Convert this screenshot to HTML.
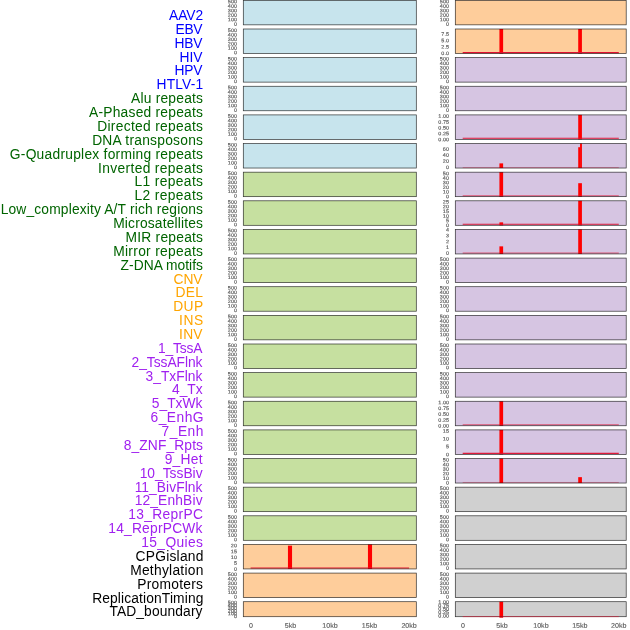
<!DOCTYPE html>
<html><head><meta charset="utf-8"><title>chart</title>
<style>
html,body{margin:0;padding:0;background:#fff;}
body{width:630px;height:630px;overflow:hidden;}
svg{display:block;will-change:transform;}
text{font-family:"Liberation Sans",sans-serif;}
.t,.x{text-rendering:geometricPrecision;}
.t{font-size:5.00px;fill:#5c5c5c;text-anchor:end;stroke:#5c5c5c;stroke-width:0.16px;}
.x{font-size:6.70px;fill:#5c5c5c;text-anchor:middle;stroke:#5c5c5c;stroke-width:0.14px;}
.l{font-size:13.8px;text-anchor:start;}
</style></head><body>
<svg width="630" height="630" viewBox="0 0 630 630">
<rect x="0" y="0" width="630" height="630" fill="#ffffff"/>
<rect x="243.30" y="0.35" width="173.00" height="24.50" fill="rgb(199,228,237)"/>
<rect x="243.30" y="0.35" width="173.00" height="24.50" fill="none" stroke="#000000" stroke-width="0.70" stroke-opacity="0.80"/>
<text x="236.90" y="3.27" class="t" transform="rotate(0.05 236.90 3.27)" textLength="9.01" lengthAdjust="spacingAndGlyphs">500</text>
<text x="236.90" y="7.77" class="t" transform="rotate(0.05 236.90 7.77)" textLength="9.01" lengthAdjust="spacingAndGlyphs">400</text>
<text x="236.90" y="12.26" class="t" transform="rotate(0.05 236.90 12.26)" textLength="9.01" lengthAdjust="spacingAndGlyphs">300</text>
<text x="236.90" y="16.76" class="t" transform="rotate(0.05 236.90 16.76)" textLength="9.01" lengthAdjust="spacingAndGlyphs">200</text>
<text x="236.90" y="21.25" class="t" transform="rotate(0.05 236.90 21.25)" textLength="9.01" lengthAdjust="spacingAndGlyphs">100</text>
<text x="236.90" y="25.75" class="t" transform="rotate(0.05 236.90 25.75)" textLength="3.00" lengthAdjust="spacingAndGlyphs">0</text>
<rect x="455.30" y="0.35" width="170.90" height="24.50" fill="rgb(254,205,155)"/>
<rect x="455.30" y="0.35" width="170.90" height="24.50" fill="none" stroke="#000000" stroke-width="0.70" stroke-opacity="0.80"/>
<text x="448.90" y="3.27" class="t" transform="rotate(0.05 448.90 3.27)" textLength="9.01" lengthAdjust="spacingAndGlyphs">500</text>
<text x="448.90" y="7.77" class="t" transform="rotate(0.05 448.90 7.77)" textLength="9.01" lengthAdjust="spacingAndGlyphs">400</text>
<text x="448.90" y="12.26" class="t" transform="rotate(0.05 448.90 12.26)" textLength="9.01" lengthAdjust="spacingAndGlyphs">300</text>
<text x="448.90" y="16.76" class="t" transform="rotate(0.05 448.90 16.76)" textLength="9.01" lengthAdjust="spacingAndGlyphs">200</text>
<text x="448.90" y="21.25" class="t" transform="rotate(0.05 448.90 21.25)" textLength="9.01" lengthAdjust="spacingAndGlyphs">100</text>
<text x="448.90" y="25.75" class="t" transform="rotate(0.05 448.90 25.75)" textLength="3.00" lengthAdjust="spacingAndGlyphs">0</text>
<rect x="243.30" y="28.99" width="173.00" height="24.50" fill="rgb(199,228,237)"/>
<rect x="243.30" y="28.99" width="173.00" height="24.50" fill="none" stroke="#000000" stroke-width="0.70" stroke-opacity="0.80"/>
<text x="236.90" y="31.91" class="t" transform="rotate(0.05 236.90 31.91)" textLength="9.01" lengthAdjust="spacingAndGlyphs">500</text>
<text x="236.90" y="36.40" class="t" transform="rotate(0.05 236.90 36.40)" textLength="9.01" lengthAdjust="spacingAndGlyphs">400</text>
<text x="236.90" y="40.90" class="t" transform="rotate(0.05 236.90 40.90)" textLength="9.01" lengthAdjust="spacingAndGlyphs">300</text>
<text x="236.90" y="45.40" class="t" transform="rotate(0.05 236.90 45.40)" textLength="9.01" lengthAdjust="spacingAndGlyphs">200</text>
<text x="236.90" y="49.89" class="t" transform="rotate(0.05 236.90 49.89)" textLength="9.01" lengthAdjust="spacingAndGlyphs">100</text>
<text x="236.90" y="54.39" class="t" transform="rotate(0.05 236.90 54.39)" textLength="3.00" lengthAdjust="spacingAndGlyphs">0</text>
<rect x="455.30" y="28.99" width="170.90" height="24.50" fill="rgb(254,205,155)"/>
<rect x="499.42" y="28.99" width="3.70" height="24.50" fill="#ff0000"/>
<rect x="578.22" y="28.99" width="3.70" height="24.50" fill="#ff0000"/>
<line x1="462.70" y1="52.59" x2="618.80" y2="52.59" stroke="#e01030" stroke-width="1.10" stroke-opacity="1.00"/>
<rect x="455.30" y="28.99" width="170.90" height="24.50" fill="none" stroke="#000000" stroke-width="0.70" stroke-opacity="0.80"/>
<text x="448.90" y="35.85" class="t" transform="rotate(0.05 448.90 35.85)" textLength="7.51" lengthAdjust="spacingAndGlyphs">7.5</text>
<text x="448.90" y="42.23" class="t" transform="rotate(0.05 448.90 42.23)" textLength="7.51" lengthAdjust="spacingAndGlyphs">5.0</text>
<text x="448.90" y="48.61" class="t" transform="rotate(0.05 448.90 48.61)" textLength="7.51" lengthAdjust="spacingAndGlyphs">2.5</text>
<text x="448.90" y="54.99" class="t" transform="rotate(0.05 448.90 54.99)" textLength="7.51" lengthAdjust="spacingAndGlyphs">0.0</text>
<rect x="243.30" y="57.62" width="173.00" height="24.50" fill="rgb(199,228,237)"/>
<rect x="243.30" y="57.62" width="173.00" height="24.50" fill="none" stroke="#000000" stroke-width="0.70" stroke-opacity="0.80"/>
<text x="236.90" y="60.55" class="t" transform="rotate(0.05 236.90 60.55)" textLength="9.01" lengthAdjust="spacingAndGlyphs">500</text>
<text x="236.90" y="65.04" class="t" transform="rotate(0.05 236.90 65.04)" textLength="9.01" lengthAdjust="spacingAndGlyphs">400</text>
<text x="236.90" y="69.54" class="t" transform="rotate(0.05 236.90 69.54)" textLength="9.01" lengthAdjust="spacingAndGlyphs">300</text>
<text x="236.90" y="74.03" class="t" transform="rotate(0.05 236.90 74.03)" textLength="9.01" lengthAdjust="spacingAndGlyphs">200</text>
<text x="236.90" y="78.53" class="t" transform="rotate(0.05 236.90 78.53)" textLength="9.01" lengthAdjust="spacingAndGlyphs">100</text>
<text x="236.90" y="83.02" class="t" transform="rotate(0.05 236.90 83.02)" textLength="3.00" lengthAdjust="spacingAndGlyphs">0</text>
<rect x="455.30" y="57.62" width="170.90" height="24.50" fill="rgb(214,197,226)"/>
<rect x="455.30" y="57.62" width="170.90" height="24.50" fill="none" stroke="#000000" stroke-width="0.70" stroke-opacity="0.80"/>
<text x="448.90" y="60.55" class="t" transform="rotate(0.05 448.90 60.55)" textLength="9.01" lengthAdjust="spacingAndGlyphs">500</text>
<text x="448.90" y="65.04" class="t" transform="rotate(0.05 448.90 65.04)" textLength="9.01" lengthAdjust="spacingAndGlyphs">400</text>
<text x="448.90" y="69.54" class="t" transform="rotate(0.05 448.90 69.54)" textLength="9.01" lengthAdjust="spacingAndGlyphs">300</text>
<text x="448.90" y="74.03" class="t" transform="rotate(0.05 448.90 74.03)" textLength="9.01" lengthAdjust="spacingAndGlyphs">200</text>
<text x="448.90" y="78.53" class="t" transform="rotate(0.05 448.90 78.53)" textLength="9.01" lengthAdjust="spacingAndGlyphs">100</text>
<text x="448.90" y="83.02" class="t" transform="rotate(0.05 448.90 83.02)" textLength="3.00" lengthAdjust="spacingAndGlyphs">0</text>
<rect x="243.30" y="86.26" width="173.00" height="24.50" fill="rgb(199,228,237)"/>
<rect x="243.30" y="86.26" width="173.00" height="24.50" fill="none" stroke="#000000" stroke-width="0.70" stroke-opacity="0.80"/>
<text x="236.90" y="89.18" class="t" transform="rotate(0.05 236.90 89.18)" textLength="9.01" lengthAdjust="spacingAndGlyphs">500</text>
<text x="236.90" y="93.68" class="t" transform="rotate(0.05 236.90 93.68)" textLength="9.01" lengthAdjust="spacingAndGlyphs">400</text>
<text x="236.90" y="98.17" class="t" transform="rotate(0.05 236.90 98.17)" textLength="9.01" lengthAdjust="spacingAndGlyphs">300</text>
<text x="236.90" y="102.67" class="t" transform="rotate(0.05 236.90 102.67)" textLength="9.01" lengthAdjust="spacingAndGlyphs">200</text>
<text x="236.90" y="107.16" class="t" transform="rotate(0.05 236.90 107.16)" textLength="9.01" lengthAdjust="spacingAndGlyphs">100</text>
<text x="236.90" y="111.66" class="t" transform="rotate(0.05 236.90 111.66)" textLength="3.00" lengthAdjust="spacingAndGlyphs">0</text>
<rect x="455.30" y="86.26" width="170.90" height="24.50" fill="rgb(214,197,226)"/>
<rect x="455.30" y="86.26" width="170.90" height="24.50" fill="none" stroke="#000000" stroke-width="0.70" stroke-opacity="0.80"/>
<text x="448.90" y="89.18" class="t" transform="rotate(0.05 448.90 89.18)" textLength="9.01" lengthAdjust="spacingAndGlyphs">500</text>
<text x="448.90" y="93.68" class="t" transform="rotate(0.05 448.90 93.68)" textLength="9.01" lengthAdjust="spacingAndGlyphs">400</text>
<text x="448.90" y="98.17" class="t" transform="rotate(0.05 448.90 98.17)" textLength="9.01" lengthAdjust="spacingAndGlyphs">300</text>
<text x="448.90" y="102.67" class="t" transform="rotate(0.05 448.90 102.67)" textLength="9.01" lengthAdjust="spacingAndGlyphs">200</text>
<text x="448.90" y="107.16" class="t" transform="rotate(0.05 448.90 107.16)" textLength="9.01" lengthAdjust="spacingAndGlyphs">100</text>
<text x="448.90" y="111.66" class="t" transform="rotate(0.05 448.90 111.66)" textLength="3.00" lengthAdjust="spacingAndGlyphs">0</text>
<rect x="243.30" y="114.90" width="173.00" height="24.50" fill="rgb(199,228,237)"/>
<rect x="243.30" y="114.90" width="173.00" height="24.50" fill="none" stroke="#000000" stroke-width="0.70" stroke-opacity="0.80"/>
<text x="236.90" y="117.82" class="t" transform="rotate(0.05 236.90 117.82)" textLength="9.01" lengthAdjust="spacingAndGlyphs">500</text>
<text x="236.90" y="122.31" class="t" transform="rotate(0.05 236.90 122.31)" textLength="9.01" lengthAdjust="spacingAndGlyphs">400</text>
<text x="236.90" y="126.81" class="t" transform="rotate(0.05 236.90 126.81)" textLength="9.01" lengthAdjust="spacingAndGlyphs">300</text>
<text x="236.90" y="131.30" class="t" transform="rotate(0.05 236.90 131.30)" textLength="9.01" lengthAdjust="spacingAndGlyphs">200</text>
<text x="236.90" y="135.80" class="t" transform="rotate(0.05 236.90 135.80)" textLength="9.01" lengthAdjust="spacingAndGlyphs">100</text>
<text x="236.90" y="140.30" class="t" transform="rotate(0.05 236.90 140.30)" textLength="3.00" lengthAdjust="spacingAndGlyphs">0</text>
<rect x="455.30" y="114.90" width="170.90" height="24.50" fill="rgb(214,197,226)"/>
<rect x="578.22" y="114.90" width="3.70" height="24.50" fill="#ff0000"/>
<line x1="462.70" y1="138.30" x2="618.80" y2="138.30" stroke="#e01030" stroke-width="1.10" stroke-opacity="0.94"/>
<rect x="455.30" y="114.90" width="170.90" height="24.50" fill="none" stroke="#000000" stroke-width="0.70" stroke-opacity="0.80"/>
<text x="448.90" y="117.86" class="t" transform="rotate(0.05 448.90 117.86)" textLength="10.51" lengthAdjust="spacingAndGlyphs">1.00</text>
<text x="448.90" y="123.70" class="t" transform="rotate(0.05 448.90 123.70)" textLength="10.51" lengthAdjust="spacingAndGlyphs">0.75</text>
<text x="448.90" y="129.53" class="t" transform="rotate(0.05 448.90 129.53)" textLength="10.51" lengthAdjust="spacingAndGlyphs">0.50</text>
<text x="448.90" y="135.36" class="t" transform="rotate(0.05 448.90 135.36)" textLength="10.51" lengthAdjust="spacingAndGlyphs">0.25</text>
<text x="448.90" y="141.20" class="t" transform="rotate(0.05 448.90 141.20)" textLength="10.51" lengthAdjust="spacingAndGlyphs">0.00</text>
<rect x="243.30" y="143.53" width="173.00" height="24.50" fill="rgb(199,228,237)"/>
<rect x="243.30" y="143.53" width="173.00" height="24.50" fill="none" stroke="#000000" stroke-width="0.70" stroke-opacity="0.80"/>
<text x="236.90" y="146.45" class="t" transform="rotate(0.05 236.90 146.45)" textLength="9.01" lengthAdjust="spacingAndGlyphs">500</text>
<text x="236.90" y="150.95" class="t" transform="rotate(0.05 236.90 150.95)" textLength="9.01" lengthAdjust="spacingAndGlyphs">400</text>
<text x="236.90" y="155.45" class="t" transform="rotate(0.05 236.90 155.45)" textLength="9.01" lengthAdjust="spacingAndGlyphs">300</text>
<text x="236.90" y="159.94" class="t" transform="rotate(0.05 236.90 159.94)" textLength="9.01" lengthAdjust="spacingAndGlyphs">200</text>
<text x="236.90" y="164.44" class="t" transform="rotate(0.05 236.90 164.44)" textLength="9.01" lengthAdjust="spacingAndGlyphs">100</text>
<text x="236.90" y="168.93" class="t" transform="rotate(0.05 236.90 168.93)" textLength="3.00" lengthAdjust="spacingAndGlyphs">0</text>
<rect x="455.30" y="143.53" width="170.90" height="24.50" fill="rgb(214,197,226)"/>
<rect x="499.42" y="163.38" width="3.70" height="4.66" fill="#ff0000"/>
<rect x="578.22" y="147.21" width="1.85" height="20.82" fill="#ff0000"/>
<rect x="580.07" y="143.53" width="1.85" height="24.50" fill="#ff0000"/>
<line x1="462.70" y1="167.58" x2="618.80" y2="167.58" stroke="#e01030" stroke-width="0.80" stroke-opacity="0.44"/>
<rect x="455.30" y="143.53" width="170.90" height="24.50" fill="none" stroke="#000000" stroke-width="0.70" stroke-opacity="0.80"/>
<text x="448.90" y="150.72" class="t" transform="rotate(0.05 448.90 150.72)" textLength="6.01" lengthAdjust="spacingAndGlyphs">60</text>
<text x="448.90" y="156.79" class="t" transform="rotate(0.05 448.90 156.79)" textLength="6.01" lengthAdjust="spacingAndGlyphs">40</text>
<text x="448.90" y="162.86" class="t" transform="rotate(0.05 448.90 162.86)" textLength="6.01" lengthAdjust="spacingAndGlyphs">20</text>
<text x="448.90" y="168.93" class="t" transform="rotate(0.05 448.90 168.93)" textLength="3.00" lengthAdjust="spacingAndGlyphs">0</text>
<rect x="243.30" y="172.17" width="173.00" height="24.50" fill="rgb(198,224,160)"/>
<rect x="243.30" y="172.17" width="173.00" height="24.50" fill="none" stroke="#000000" stroke-width="0.70" stroke-opacity="0.80"/>
<text x="236.90" y="175.09" class="t" transform="rotate(0.05 236.90 175.09)" textLength="9.01" lengthAdjust="spacingAndGlyphs">500</text>
<text x="236.90" y="179.59" class="t" transform="rotate(0.05 236.90 179.59)" textLength="9.01" lengthAdjust="spacingAndGlyphs">400</text>
<text x="236.90" y="184.08" class="t" transform="rotate(0.05 236.90 184.08)" textLength="9.01" lengthAdjust="spacingAndGlyphs">300</text>
<text x="236.90" y="188.58" class="t" transform="rotate(0.05 236.90 188.58)" textLength="9.01" lengthAdjust="spacingAndGlyphs">200</text>
<text x="236.90" y="193.07" class="t" transform="rotate(0.05 236.90 193.07)" textLength="9.01" lengthAdjust="spacingAndGlyphs">100</text>
<text x="236.90" y="197.57" class="t" transform="rotate(0.05 236.90 197.57)" textLength="3.00" lengthAdjust="spacingAndGlyphs">0</text>
<rect x="455.30" y="172.17" width="170.90" height="24.50" fill="rgb(214,197,226)"/>
<rect x="499.42" y="172.17" width="3.70" height="24.50" fill="#ff0000"/>
<rect x="578.22" y="183.19" width="3.70" height="13.48" fill="#ff0000"/>
<line x1="462.70" y1="195.82" x2="618.80" y2="195.82" stroke="#e01030" stroke-width="1.10" stroke-opacity="0.62"/>
<rect x="455.30" y="172.17" width="170.90" height="24.50" fill="none" stroke="#000000" stroke-width="0.70" stroke-opacity="0.80"/>
<text x="448.90" y="175.19" class="t" transform="rotate(0.05 448.90 175.19)" textLength="6.01" lengthAdjust="spacingAndGlyphs">50</text>
<text x="448.90" y="179.78" class="t" transform="rotate(0.05 448.90 179.78)" textLength="6.01" lengthAdjust="spacingAndGlyphs">40</text>
<text x="448.90" y="184.38" class="t" transform="rotate(0.05 448.90 184.38)" textLength="6.01" lengthAdjust="spacingAndGlyphs">30</text>
<text x="448.90" y="188.97" class="t" transform="rotate(0.05 448.90 188.97)" textLength="6.01" lengthAdjust="spacingAndGlyphs">20</text>
<text x="448.90" y="193.57" class="t" transform="rotate(0.05 448.90 193.57)" textLength="6.01" lengthAdjust="spacingAndGlyphs">10</text>
<text x="448.90" y="198.17" class="t" transform="rotate(0.05 448.90 198.17)" textLength="3.00" lengthAdjust="spacingAndGlyphs">0</text>
<rect x="243.30" y="200.80" width="173.00" height="24.50" fill="rgb(198,224,160)"/>
<rect x="243.30" y="200.80" width="173.00" height="24.50" fill="none" stroke="#000000" stroke-width="0.70" stroke-opacity="0.80"/>
<text x="236.90" y="203.73" class="t" transform="rotate(0.05 236.90 203.73)" textLength="9.01" lengthAdjust="spacingAndGlyphs">500</text>
<text x="236.90" y="208.22" class="t" transform="rotate(0.05 236.90 208.22)" textLength="9.01" lengthAdjust="spacingAndGlyphs">400</text>
<text x="236.90" y="212.72" class="t" transform="rotate(0.05 236.90 212.72)" textLength="9.01" lengthAdjust="spacingAndGlyphs">300</text>
<text x="236.90" y="217.21" class="t" transform="rotate(0.05 236.90 217.21)" textLength="9.01" lengthAdjust="spacingAndGlyphs">200</text>
<text x="236.90" y="221.71" class="t" transform="rotate(0.05 236.90 221.71)" textLength="9.01" lengthAdjust="spacingAndGlyphs">100</text>
<text x="236.90" y="226.20" class="t" transform="rotate(0.05 236.90 226.20)" textLength="3.00" lengthAdjust="spacingAndGlyphs">0</text>
<rect x="455.30" y="200.80" width="170.90" height="24.50" fill="rgb(214,197,226)"/>
<rect x="499.42" y="222.36" width="3.70" height="2.94" fill="#ff0000"/>
<rect x="578.22" y="200.80" width="3.70" height="24.50" fill="#ff0000"/>
<line x1="462.70" y1="224.25" x2="618.80" y2="224.25" stroke="#e01030" stroke-width="1.10" stroke-opacity="0.94"/>
<rect x="455.30" y="200.80" width="170.90" height="24.50" fill="none" stroke="#000000" stroke-width="0.70" stroke-opacity="0.80"/>
<text x="448.90" y="203.55" class="t" transform="rotate(0.05 448.90 203.55)" textLength="6.01" lengthAdjust="spacingAndGlyphs">25</text>
<text x="448.90" y="208.26" class="t" transform="rotate(0.05 448.90 208.26)" textLength="6.01" lengthAdjust="spacingAndGlyphs">20</text>
<text x="448.90" y="212.97" class="t" transform="rotate(0.05 448.90 212.97)" textLength="6.01" lengthAdjust="spacingAndGlyphs">15</text>
<text x="448.90" y="217.68" class="t" transform="rotate(0.05 448.90 217.68)" textLength="6.01" lengthAdjust="spacingAndGlyphs">10</text>
<text x="448.90" y="222.39" class="t" transform="rotate(0.05 448.90 222.39)" textLength="3.00" lengthAdjust="spacingAndGlyphs">5</text>
<text x="448.90" y="227.10" class="t" transform="rotate(0.05 448.90 227.10)" textLength="3.00" lengthAdjust="spacingAndGlyphs">0</text>
<rect x="243.30" y="229.44" width="173.00" height="24.50" fill="rgb(198,224,160)"/>
<rect x="243.30" y="229.44" width="173.00" height="24.50" fill="none" stroke="#000000" stroke-width="0.70" stroke-opacity="0.80"/>
<text x="236.90" y="232.36" class="t" transform="rotate(0.05 236.90 232.36)" textLength="9.01" lengthAdjust="spacingAndGlyphs">500</text>
<text x="236.90" y="236.86" class="t" transform="rotate(0.05 236.90 236.86)" textLength="9.01" lengthAdjust="spacingAndGlyphs">400</text>
<text x="236.90" y="241.35" class="t" transform="rotate(0.05 236.90 241.35)" textLength="9.01" lengthAdjust="spacingAndGlyphs">300</text>
<text x="236.90" y="245.85" class="t" transform="rotate(0.05 236.90 245.85)" textLength="9.01" lengthAdjust="spacingAndGlyphs">200</text>
<text x="236.90" y="250.35" class="t" transform="rotate(0.05 236.90 250.35)" textLength="9.01" lengthAdjust="spacingAndGlyphs">100</text>
<text x="236.90" y="254.84" class="t" transform="rotate(0.05 236.90 254.84)" textLength="3.00" lengthAdjust="spacingAndGlyphs">0</text>
<rect x="455.30" y="229.44" width="170.90" height="24.50" fill="rgb(214,197,226)"/>
<rect x="499.42" y="246.35" width="3.70" height="7.59" fill="#ff0000"/>
<rect x="578.22" y="229.44" width="3.70" height="24.50" fill="#ff0000"/>
<line x1="462.70" y1="252.94" x2="618.80" y2="252.94" stroke="#e01030" stroke-width="1.10" stroke-opacity="0.62"/>
<rect x="455.30" y="229.44" width="170.90" height="24.50" fill="none" stroke="#000000" stroke-width="0.70" stroke-opacity="0.80"/>
<text x="448.90" y="231.51" class="t" transform="rotate(0.05 448.90 231.51)" textLength="3.00" lengthAdjust="spacingAndGlyphs">4</text>
<text x="448.90" y="237.34" class="t" transform="rotate(0.05 448.90 237.34)" textLength="3.00" lengthAdjust="spacingAndGlyphs">3</text>
<text x="448.90" y="243.17" class="t" transform="rotate(0.05 448.90 243.17)" textLength="3.00" lengthAdjust="spacingAndGlyphs">2</text>
<text x="448.90" y="249.01" class="t" transform="rotate(0.05 448.90 249.01)" textLength="3.00" lengthAdjust="spacingAndGlyphs">1</text>
<text x="448.90" y="254.84" class="t" transform="rotate(0.05 448.90 254.84)" textLength="3.00" lengthAdjust="spacingAndGlyphs">0</text>
<rect x="243.30" y="258.08" width="173.00" height="24.50" fill="rgb(198,224,160)"/>
<rect x="243.30" y="258.08" width="173.00" height="24.50" fill="none" stroke="#000000" stroke-width="0.70" stroke-opacity="0.80"/>
<text x="236.90" y="261.00" class="t" transform="rotate(0.05 236.90 261.00)" textLength="9.01" lengthAdjust="spacingAndGlyphs">500</text>
<text x="236.90" y="265.50" class="t" transform="rotate(0.05 236.90 265.50)" textLength="9.01" lengthAdjust="spacingAndGlyphs">400</text>
<text x="236.90" y="269.99" class="t" transform="rotate(0.05 236.90 269.99)" textLength="9.01" lengthAdjust="spacingAndGlyphs">300</text>
<text x="236.90" y="274.49" class="t" transform="rotate(0.05 236.90 274.49)" textLength="9.01" lengthAdjust="spacingAndGlyphs">200</text>
<text x="236.90" y="278.98" class="t" transform="rotate(0.05 236.90 278.98)" textLength="9.01" lengthAdjust="spacingAndGlyphs">100</text>
<text x="236.90" y="283.48" class="t" transform="rotate(0.05 236.90 283.48)" textLength="3.00" lengthAdjust="spacingAndGlyphs">0</text>
<rect x="455.30" y="258.08" width="170.90" height="24.50" fill="rgb(214,197,226)"/>
<rect x="455.30" y="258.08" width="170.90" height="24.50" fill="none" stroke="#000000" stroke-width="0.70" stroke-opacity="0.80"/>
<text x="448.90" y="261.00" class="t" transform="rotate(0.05 448.90 261.00)" textLength="9.01" lengthAdjust="spacingAndGlyphs">500</text>
<text x="448.90" y="265.50" class="t" transform="rotate(0.05 448.90 265.50)" textLength="9.01" lengthAdjust="spacingAndGlyphs">400</text>
<text x="448.90" y="269.99" class="t" transform="rotate(0.05 448.90 269.99)" textLength="9.01" lengthAdjust="spacingAndGlyphs">300</text>
<text x="448.90" y="274.49" class="t" transform="rotate(0.05 448.90 274.49)" textLength="9.01" lengthAdjust="spacingAndGlyphs">200</text>
<text x="448.90" y="278.98" class="t" transform="rotate(0.05 448.90 278.98)" textLength="9.01" lengthAdjust="spacingAndGlyphs">100</text>
<text x="448.90" y="283.48" class="t" transform="rotate(0.05 448.90 283.48)" textLength="3.00" lengthAdjust="spacingAndGlyphs">0</text>
<rect x="243.30" y="286.71" width="173.00" height="24.50" fill="rgb(198,224,160)"/>
<rect x="243.30" y="286.71" width="173.00" height="24.50" fill="none" stroke="#000000" stroke-width="0.70" stroke-opacity="0.80"/>
<text x="236.90" y="289.64" class="t" transform="rotate(0.05 236.90 289.64)" textLength="9.01" lengthAdjust="spacingAndGlyphs">500</text>
<text x="236.90" y="294.13" class="t" transform="rotate(0.05 236.90 294.13)" textLength="9.01" lengthAdjust="spacingAndGlyphs">400</text>
<text x="236.90" y="298.63" class="t" transform="rotate(0.05 236.90 298.63)" textLength="9.01" lengthAdjust="spacingAndGlyphs">300</text>
<text x="236.90" y="303.12" class="t" transform="rotate(0.05 236.90 303.12)" textLength="9.01" lengthAdjust="spacingAndGlyphs">200</text>
<text x="236.90" y="307.62" class="t" transform="rotate(0.05 236.90 307.62)" textLength="9.01" lengthAdjust="spacingAndGlyphs">100</text>
<text x="236.90" y="312.11" class="t" transform="rotate(0.05 236.90 312.11)" textLength="3.00" lengthAdjust="spacingAndGlyphs">0</text>
<rect x="455.30" y="286.71" width="170.90" height="24.50" fill="rgb(214,197,226)"/>
<rect x="455.30" y="286.71" width="170.90" height="24.50" fill="none" stroke="#000000" stroke-width="0.70" stroke-opacity="0.80"/>
<text x="448.90" y="289.64" class="t" transform="rotate(0.05 448.90 289.64)" textLength="9.01" lengthAdjust="spacingAndGlyphs">500</text>
<text x="448.90" y="294.13" class="t" transform="rotate(0.05 448.90 294.13)" textLength="9.01" lengthAdjust="spacingAndGlyphs">400</text>
<text x="448.90" y="298.63" class="t" transform="rotate(0.05 448.90 298.63)" textLength="9.01" lengthAdjust="spacingAndGlyphs">300</text>
<text x="448.90" y="303.12" class="t" transform="rotate(0.05 448.90 303.12)" textLength="9.01" lengthAdjust="spacingAndGlyphs">200</text>
<text x="448.90" y="307.62" class="t" transform="rotate(0.05 448.90 307.62)" textLength="9.01" lengthAdjust="spacingAndGlyphs">100</text>
<text x="448.90" y="312.11" class="t" transform="rotate(0.05 448.90 312.11)" textLength="3.00" lengthAdjust="spacingAndGlyphs">0</text>
<rect x="243.30" y="315.35" width="173.00" height="24.50" fill="rgb(198,224,160)"/>
<rect x="243.30" y="315.35" width="173.00" height="24.50" fill="none" stroke="#000000" stroke-width="0.70" stroke-opacity="0.80"/>
<text x="236.90" y="318.27" class="t" transform="rotate(0.05 236.90 318.27)" textLength="9.01" lengthAdjust="spacingAndGlyphs">500</text>
<text x="236.90" y="322.77" class="t" transform="rotate(0.05 236.90 322.77)" textLength="9.01" lengthAdjust="spacingAndGlyphs">400</text>
<text x="236.90" y="327.26" class="t" transform="rotate(0.05 236.90 327.26)" textLength="9.01" lengthAdjust="spacingAndGlyphs">300</text>
<text x="236.90" y="331.76" class="t" transform="rotate(0.05 236.90 331.76)" textLength="9.01" lengthAdjust="spacingAndGlyphs">200</text>
<text x="236.90" y="336.25" class="t" transform="rotate(0.05 236.90 336.25)" textLength="9.01" lengthAdjust="spacingAndGlyphs">100</text>
<text x="236.90" y="340.75" class="t" transform="rotate(0.05 236.90 340.75)" textLength="3.00" lengthAdjust="spacingAndGlyphs">0</text>
<rect x="455.30" y="315.35" width="170.90" height="24.50" fill="rgb(214,197,226)"/>
<rect x="455.30" y="315.35" width="170.90" height="24.50" fill="none" stroke="#000000" stroke-width="0.70" stroke-opacity="0.80"/>
<text x="448.90" y="318.27" class="t" transform="rotate(0.05 448.90 318.27)" textLength="9.01" lengthAdjust="spacingAndGlyphs">500</text>
<text x="448.90" y="322.77" class="t" transform="rotate(0.05 448.90 322.77)" textLength="9.01" lengthAdjust="spacingAndGlyphs">400</text>
<text x="448.90" y="327.26" class="t" transform="rotate(0.05 448.90 327.26)" textLength="9.01" lengthAdjust="spacingAndGlyphs">300</text>
<text x="448.90" y="331.76" class="t" transform="rotate(0.05 448.90 331.76)" textLength="9.01" lengthAdjust="spacingAndGlyphs">200</text>
<text x="448.90" y="336.25" class="t" transform="rotate(0.05 448.90 336.25)" textLength="9.01" lengthAdjust="spacingAndGlyphs">100</text>
<text x="448.90" y="340.75" class="t" transform="rotate(0.05 448.90 340.75)" textLength="3.00" lengthAdjust="spacingAndGlyphs">0</text>
<rect x="243.30" y="343.99" width="173.00" height="24.50" fill="rgb(198,224,160)"/>
<rect x="243.30" y="343.99" width="173.00" height="24.50" fill="none" stroke="#000000" stroke-width="0.70" stroke-opacity="0.80"/>
<text x="236.90" y="346.91" class="t" transform="rotate(0.05 236.90 346.91)" textLength="9.01" lengthAdjust="spacingAndGlyphs">500</text>
<text x="236.90" y="351.40" class="t" transform="rotate(0.05 236.90 351.40)" textLength="9.01" lengthAdjust="spacingAndGlyphs">400</text>
<text x="236.90" y="355.90" class="t" transform="rotate(0.05 236.90 355.90)" textLength="9.01" lengthAdjust="spacingAndGlyphs">300</text>
<text x="236.90" y="360.40" class="t" transform="rotate(0.05 236.90 360.40)" textLength="9.01" lengthAdjust="spacingAndGlyphs">200</text>
<text x="236.90" y="364.89" class="t" transform="rotate(0.05 236.90 364.89)" textLength="9.01" lengthAdjust="spacingAndGlyphs">100</text>
<text x="236.90" y="369.39" class="t" transform="rotate(0.05 236.90 369.39)" textLength="3.00" lengthAdjust="spacingAndGlyphs">0</text>
<rect x="455.30" y="343.99" width="170.90" height="24.50" fill="rgb(214,197,226)"/>
<rect x="455.30" y="343.99" width="170.90" height="24.50" fill="none" stroke="#000000" stroke-width="0.70" stroke-opacity="0.80"/>
<text x="448.90" y="346.91" class="t" transform="rotate(0.05 448.90 346.91)" textLength="9.01" lengthAdjust="spacingAndGlyphs">500</text>
<text x="448.90" y="351.40" class="t" transform="rotate(0.05 448.90 351.40)" textLength="9.01" lengthAdjust="spacingAndGlyphs">400</text>
<text x="448.90" y="355.90" class="t" transform="rotate(0.05 448.90 355.90)" textLength="9.01" lengthAdjust="spacingAndGlyphs">300</text>
<text x="448.90" y="360.40" class="t" transform="rotate(0.05 448.90 360.40)" textLength="9.01" lengthAdjust="spacingAndGlyphs">200</text>
<text x="448.90" y="364.89" class="t" transform="rotate(0.05 448.90 364.89)" textLength="9.01" lengthAdjust="spacingAndGlyphs">100</text>
<text x="448.90" y="369.39" class="t" transform="rotate(0.05 448.90 369.39)" textLength="3.00" lengthAdjust="spacingAndGlyphs">0</text>
<rect x="243.30" y="372.62" width="173.00" height="24.50" fill="rgb(198,224,160)"/>
<rect x="243.30" y="372.62" width="173.00" height="24.50" fill="none" stroke="#000000" stroke-width="0.70" stroke-opacity="0.80"/>
<text x="236.90" y="375.55" class="t" transform="rotate(0.05 236.90 375.55)" textLength="9.01" lengthAdjust="spacingAndGlyphs">500</text>
<text x="236.90" y="380.04" class="t" transform="rotate(0.05 236.90 380.04)" textLength="9.01" lengthAdjust="spacingAndGlyphs">400</text>
<text x="236.90" y="384.54" class="t" transform="rotate(0.05 236.90 384.54)" textLength="9.01" lengthAdjust="spacingAndGlyphs">300</text>
<text x="236.90" y="389.03" class="t" transform="rotate(0.05 236.90 389.03)" textLength="9.01" lengthAdjust="spacingAndGlyphs">200</text>
<text x="236.90" y="393.53" class="t" transform="rotate(0.05 236.90 393.53)" textLength="9.01" lengthAdjust="spacingAndGlyphs">100</text>
<text x="236.90" y="398.02" class="t" transform="rotate(0.05 236.90 398.02)" textLength="3.00" lengthAdjust="spacingAndGlyphs">0</text>
<rect x="455.30" y="372.62" width="170.90" height="24.50" fill="rgb(214,197,226)"/>
<rect x="455.30" y="372.62" width="170.90" height="24.50" fill="none" stroke="#000000" stroke-width="0.70" stroke-opacity="0.80"/>
<text x="448.90" y="375.55" class="t" transform="rotate(0.05 448.90 375.55)" textLength="9.01" lengthAdjust="spacingAndGlyphs">500</text>
<text x="448.90" y="380.04" class="t" transform="rotate(0.05 448.90 380.04)" textLength="9.01" lengthAdjust="spacingAndGlyphs">400</text>
<text x="448.90" y="384.54" class="t" transform="rotate(0.05 448.90 384.54)" textLength="9.01" lengthAdjust="spacingAndGlyphs">300</text>
<text x="448.90" y="389.03" class="t" transform="rotate(0.05 448.90 389.03)" textLength="9.01" lengthAdjust="spacingAndGlyphs">200</text>
<text x="448.90" y="393.53" class="t" transform="rotate(0.05 448.90 393.53)" textLength="9.01" lengthAdjust="spacingAndGlyphs">100</text>
<text x="448.90" y="398.02" class="t" transform="rotate(0.05 448.90 398.02)" textLength="3.00" lengthAdjust="spacingAndGlyphs">0</text>
<rect x="243.30" y="401.26" width="173.00" height="24.50" fill="rgb(198,224,160)"/>
<rect x="243.30" y="401.26" width="173.00" height="24.50" fill="none" stroke="#000000" stroke-width="0.70" stroke-opacity="0.80"/>
<text x="236.90" y="404.18" class="t" transform="rotate(0.05 236.90 404.18)" textLength="9.01" lengthAdjust="spacingAndGlyphs">500</text>
<text x="236.90" y="408.68" class="t" transform="rotate(0.05 236.90 408.68)" textLength="9.01" lengthAdjust="spacingAndGlyphs">400</text>
<text x="236.90" y="413.17" class="t" transform="rotate(0.05 236.90 413.17)" textLength="9.01" lengthAdjust="spacingAndGlyphs">300</text>
<text x="236.90" y="417.67" class="t" transform="rotate(0.05 236.90 417.67)" textLength="9.01" lengthAdjust="spacingAndGlyphs">200</text>
<text x="236.90" y="422.16" class="t" transform="rotate(0.05 236.90 422.16)" textLength="9.01" lengthAdjust="spacingAndGlyphs">100</text>
<text x="236.90" y="426.66" class="t" transform="rotate(0.05 236.90 426.66)" textLength="3.00" lengthAdjust="spacingAndGlyphs">0</text>
<rect x="455.30" y="401.26" width="170.90" height="24.50" fill="rgb(214,197,226)"/>
<rect x="499.42" y="401.26" width="3.70" height="24.50" fill="#ff0000"/>
<line x1="462.70" y1="424.76" x2="618.80" y2="424.76" stroke="#e01030" stroke-width="1.10" stroke-opacity="0.62"/>
<rect x="455.30" y="401.26" width="170.90" height="24.50" fill="none" stroke="#000000" stroke-width="0.70" stroke-opacity="0.80"/>
<text x="448.90" y="404.23" class="t" transform="rotate(0.05 448.90 404.23)" textLength="10.51" lengthAdjust="spacingAndGlyphs">1.00</text>
<text x="448.90" y="410.06" class="t" transform="rotate(0.05 448.90 410.06)" textLength="10.51" lengthAdjust="spacingAndGlyphs">0.75</text>
<text x="448.90" y="415.89" class="t" transform="rotate(0.05 448.90 415.89)" textLength="10.51" lengthAdjust="spacingAndGlyphs">0.50</text>
<text x="448.90" y="421.73" class="t" transform="rotate(0.05 448.90 421.73)" textLength="10.51" lengthAdjust="spacingAndGlyphs">0.25</text>
<text x="448.90" y="427.56" class="t" transform="rotate(0.05 448.90 427.56)" textLength="10.51" lengthAdjust="spacingAndGlyphs">0.00</text>
<rect x="243.30" y="429.90" width="173.00" height="24.50" fill="rgb(198,224,160)"/>
<rect x="243.30" y="429.90" width="173.00" height="24.50" fill="none" stroke="#000000" stroke-width="0.70" stroke-opacity="0.80"/>
<text x="236.90" y="432.82" class="t" transform="rotate(0.05 236.90 432.82)" textLength="9.01" lengthAdjust="spacingAndGlyphs">500</text>
<text x="236.90" y="437.31" class="t" transform="rotate(0.05 236.90 437.31)" textLength="9.01" lengthAdjust="spacingAndGlyphs">400</text>
<text x="236.90" y="441.81" class="t" transform="rotate(0.05 236.90 441.81)" textLength="9.01" lengthAdjust="spacingAndGlyphs">300</text>
<text x="236.90" y="446.30" class="t" transform="rotate(0.05 236.90 446.30)" textLength="9.01" lengthAdjust="spacingAndGlyphs">200</text>
<text x="236.90" y="450.80" class="t" transform="rotate(0.05 236.90 450.80)" textLength="9.01" lengthAdjust="spacingAndGlyphs">100</text>
<text x="236.90" y="455.30" class="t" transform="rotate(0.05 236.90 455.30)" textLength="3.00" lengthAdjust="spacingAndGlyphs">0</text>
<rect x="455.30" y="429.90" width="170.90" height="24.50" fill="rgb(214,197,226)"/>
<rect x="499.42" y="429.90" width="3.70" height="24.50" fill="#ff0000"/>
<line x1="462.70" y1="453.40" x2="618.80" y2="453.40" stroke="#e01030" stroke-width="1.10" stroke-opacity="0.94"/>
<rect x="455.30" y="429.90" width="170.90" height="24.50" fill="none" stroke="#000000" stroke-width="0.70" stroke-opacity="0.80"/>
<text x="448.90" y="432.79" class="t" transform="rotate(0.05 448.90 432.79)" textLength="6.01" lengthAdjust="spacingAndGlyphs">15</text>
<text x="448.90" y="440.59" class="t" transform="rotate(0.05 448.90 440.59)" textLength="6.01" lengthAdjust="spacingAndGlyphs">10</text>
<text x="448.90" y="448.39" class="t" transform="rotate(0.05 448.90 448.39)" textLength="3.00" lengthAdjust="spacingAndGlyphs">5</text>
<text x="448.90" y="456.20" class="t" transform="rotate(0.05 448.90 456.20)" textLength="3.00" lengthAdjust="spacingAndGlyphs">0</text>
<rect x="243.30" y="458.53" width="173.00" height="24.50" fill="rgb(198,224,160)"/>
<rect x="243.30" y="458.53" width="173.00" height="24.50" fill="none" stroke="#000000" stroke-width="0.70" stroke-opacity="0.80"/>
<text x="236.90" y="461.45" class="t" transform="rotate(0.05 236.90 461.45)" textLength="9.01" lengthAdjust="spacingAndGlyphs">500</text>
<text x="236.90" y="465.95" class="t" transform="rotate(0.05 236.90 465.95)" textLength="9.01" lengthAdjust="spacingAndGlyphs">400</text>
<text x="236.90" y="470.45" class="t" transform="rotate(0.05 236.90 470.45)" textLength="9.01" lengthAdjust="spacingAndGlyphs">300</text>
<text x="236.90" y="474.94" class="t" transform="rotate(0.05 236.90 474.94)" textLength="9.01" lengthAdjust="spacingAndGlyphs">200</text>
<text x="236.90" y="479.44" class="t" transform="rotate(0.05 236.90 479.44)" textLength="9.01" lengthAdjust="spacingAndGlyphs">100</text>
<text x="236.90" y="483.93" class="t" transform="rotate(0.05 236.90 483.93)" textLength="3.00" lengthAdjust="spacingAndGlyphs">0</text>
<rect x="455.30" y="458.53" width="170.90" height="24.50" fill="rgb(214,197,226)"/>
<rect x="499.42" y="458.53" width="3.70" height="24.50" fill="#ff0000"/>
<rect x="578.22" y="477.15" width="3.70" height="5.88" fill="#ff0000"/>
<line x1="462.70" y1="482.48" x2="618.80" y2="482.48" stroke="#e01030" stroke-width="0.80" stroke-opacity="0.44"/>
<rect x="455.30" y="458.53" width="170.90" height="24.50" fill="none" stroke="#000000" stroke-width="0.70" stroke-opacity="0.80"/>
<text x="448.90" y="461.55" class="t" transform="rotate(0.05 448.90 461.55)" textLength="6.01" lengthAdjust="spacingAndGlyphs">50</text>
<text x="448.90" y="466.15" class="t" transform="rotate(0.05 448.90 466.15)" textLength="6.01" lengthAdjust="spacingAndGlyphs">40</text>
<text x="448.90" y="470.74" class="t" transform="rotate(0.05 448.90 470.74)" textLength="6.01" lengthAdjust="spacingAndGlyphs">30</text>
<text x="448.90" y="475.34" class="t" transform="rotate(0.05 448.90 475.34)" textLength="6.01" lengthAdjust="spacingAndGlyphs">20</text>
<text x="448.90" y="479.94" class="t" transform="rotate(0.05 448.90 479.94)" textLength="6.01" lengthAdjust="spacingAndGlyphs">10</text>
<text x="448.90" y="484.53" class="t" transform="rotate(0.05 448.90 484.53)" textLength="3.00" lengthAdjust="spacingAndGlyphs">0</text>
<rect x="243.30" y="487.17" width="173.00" height="24.50" fill="rgb(198,224,160)"/>
<rect x="243.30" y="487.17" width="173.00" height="24.50" fill="none" stroke="#000000" stroke-width="0.70" stroke-opacity="0.80"/>
<text x="236.90" y="490.09" class="t" transform="rotate(0.05 236.90 490.09)" textLength="9.01" lengthAdjust="spacingAndGlyphs">500</text>
<text x="236.90" y="494.59" class="t" transform="rotate(0.05 236.90 494.59)" textLength="9.01" lengthAdjust="spacingAndGlyphs">400</text>
<text x="236.90" y="499.08" class="t" transform="rotate(0.05 236.90 499.08)" textLength="9.01" lengthAdjust="spacingAndGlyphs">300</text>
<text x="236.90" y="503.58" class="t" transform="rotate(0.05 236.90 503.58)" textLength="9.01" lengthAdjust="spacingAndGlyphs">200</text>
<text x="236.90" y="508.07" class="t" transform="rotate(0.05 236.90 508.07)" textLength="9.01" lengthAdjust="spacingAndGlyphs">100</text>
<text x="236.90" y="512.57" class="t" transform="rotate(0.05 236.90 512.57)" textLength="3.00" lengthAdjust="spacingAndGlyphs">0</text>
<rect x="455.30" y="487.17" width="170.90" height="24.50" fill="rgb(208,208,208)"/>
<rect x="455.30" y="487.17" width="170.90" height="24.50" fill="none" stroke="#000000" stroke-width="0.70" stroke-opacity="0.80"/>
<text x="448.90" y="490.09" class="t" transform="rotate(0.05 448.90 490.09)" textLength="9.01" lengthAdjust="spacingAndGlyphs">500</text>
<text x="448.90" y="494.59" class="t" transform="rotate(0.05 448.90 494.59)" textLength="9.01" lengthAdjust="spacingAndGlyphs">400</text>
<text x="448.90" y="499.08" class="t" transform="rotate(0.05 448.90 499.08)" textLength="9.01" lengthAdjust="spacingAndGlyphs">300</text>
<text x="448.90" y="503.58" class="t" transform="rotate(0.05 448.90 503.58)" textLength="9.01" lengthAdjust="spacingAndGlyphs">200</text>
<text x="448.90" y="508.07" class="t" transform="rotate(0.05 448.90 508.07)" textLength="9.01" lengthAdjust="spacingAndGlyphs">100</text>
<text x="448.90" y="512.57" class="t" transform="rotate(0.05 448.90 512.57)" textLength="3.00" lengthAdjust="spacingAndGlyphs">0</text>
<rect x="243.30" y="515.80" width="173.00" height="24.50" fill="rgb(198,224,160)"/>
<rect x="243.30" y="515.80" width="173.00" height="24.50" fill="none" stroke="#000000" stroke-width="0.70" stroke-opacity="0.80"/>
<text x="236.90" y="518.73" class="t" transform="rotate(0.05 236.90 518.73)" textLength="9.01" lengthAdjust="spacingAndGlyphs">500</text>
<text x="236.90" y="523.22" class="t" transform="rotate(0.05 236.90 523.22)" textLength="9.01" lengthAdjust="spacingAndGlyphs">400</text>
<text x="236.90" y="527.72" class="t" transform="rotate(0.05 236.90 527.72)" textLength="9.01" lengthAdjust="spacingAndGlyphs">300</text>
<text x="236.90" y="532.21" class="t" transform="rotate(0.05 236.90 532.21)" textLength="9.01" lengthAdjust="spacingAndGlyphs">200</text>
<text x="236.90" y="536.71" class="t" transform="rotate(0.05 236.90 536.71)" textLength="9.01" lengthAdjust="spacingAndGlyphs">100</text>
<text x="236.90" y="541.20" class="t" transform="rotate(0.05 236.90 541.20)" textLength="3.00" lengthAdjust="spacingAndGlyphs">0</text>
<rect x="455.30" y="515.80" width="170.90" height="24.50" fill="rgb(208,208,208)"/>
<rect x="455.30" y="515.80" width="170.90" height="24.50" fill="none" stroke="#000000" stroke-width="0.70" stroke-opacity="0.80"/>
<text x="448.90" y="518.73" class="t" transform="rotate(0.05 448.90 518.73)" textLength="9.01" lengthAdjust="spacingAndGlyphs">500</text>
<text x="448.90" y="523.22" class="t" transform="rotate(0.05 448.90 523.22)" textLength="9.01" lengthAdjust="spacingAndGlyphs">400</text>
<text x="448.90" y="527.72" class="t" transform="rotate(0.05 448.90 527.72)" textLength="9.01" lengthAdjust="spacingAndGlyphs">300</text>
<text x="448.90" y="532.21" class="t" transform="rotate(0.05 448.90 532.21)" textLength="9.01" lengthAdjust="spacingAndGlyphs">200</text>
<text x="448.90" y="536.71" class="t" transform="rotate(0.05 448.90 536.71)" textLength="9.01" lengthAdjust="spacingAndGlyphs">100</text>
<text x="448.90" y="541.20" class="t" transform="rotate(0.05 448.90 541.20)" textLength="3.00" lengthAdjust="spacingAndGlyphs">0</text>
<rect x="243.30" y="544.44" width="173.00" height="24.50" fill="rgb(254,205,155)"/>
<rect x="287.95" y="545.67" width="4.10" height="23.27" fill="#ff0000"/>
<rect x="367.95" y="544.44" width="4.10" height="24.50" fill="#ff0000"/>
<line x1="250.60" y1="567.89" x2="409.10" y2="567.89" stroke="#e01030" stroke-width="1.50" stroke-opacity="0.65"/>
<rect x="243.30" y="544.44" width="173.00" height="24.50" fill="none" stroke="#000000" stroke-width="0.70" stroke-opacity="0.80"/>
<text x="236.90" y="547.30" class="t" transform="rotate(0.05 236.90 547.30)" textLength="6.01" lengthAdjust="spacingAndGlyphs">20</text>
<text x="236.90" y="553.16" class="t" transform="rotate(0.05 236.90 553.16)" textLength="6.01" lengthAdjust="spacingAndGlyphs">15</text>
<text x="236.90" y="559.02" class="t" transform="rotate(0.05 236.90 559.02)" textLength="6.01" lengthAdjust="spacingAndGlyphs">10</text>
<text x="236.90" y="564.88" class="t" transform="rotate(0.05 236.90 564.88)" textLength="3.00" lengthAdjust="spacingAndGlyphs">5</text>
<text x="236.90" y="570.74" class="t" transform="rotate(0.05 236.90 570.74)" textLength="3.00" lengthAdjust="spacingAndGlyphs">0</text>
<rect x="455.30" y="544.44" width="170.90" height="24.50" fill="rgb(208,208,208)"/>
<rect x="455.30" y="544.44" width="170.90" height="24.50" fill="none" stroke="#000000" stroke-width="0.70" stroke-opacity="0.80"/>
<text x="448.90" y="547.36" class="t" transform="rotate(0.05 448.90 547.36)" textLength="9.01" lengthAdjust="spacingAndGlyphs">500</text>
<text x="448.90" y="551.86" class="t" transform="rotate(0.05 448.90 551.86)" textLength="9.01" lengthAdjust="spacingAndGlyphs">400</text>
<text x="448.90" y="556.35" class="t" transform="rotate(0.05 448.90 556.35)" textLength="9.01" lengthAdjust="spacingAndGlyphs">300</text>
<text x="448.90" y="560.85" class="t" transform="rotate(0.05 448.90 560.85)" textLength="9.01" lengthAdjust="spacingAndGlyphs">200</text>
<text x="448.90" y="565.35" class="t" transform="rotate(0.05 448.90 565.35)" textLength="9.01" lengthAdjust="spacingAndGlyphs">100</text>
<text x="448.90" y="569.84" class="t" transform="rotate(0.05 448.90 569.84)" textLength="3.00" lengthAdjust="spacingAndGlyphs">0</text>
<rect x="243.30" y="573.08" width="173.00" height="24.50" fill="rgb(254,205,155)"/>
<rect x="243.30" y="573.08" width="173.00" height="24.50" fill="none" stroke="#000000" stroke-width="0.70" stroke-opacity="0.80"/>
<text x="236.90" y="576.00" class="t" transform="rotate(0.05 236.90 576.00)" textLength="9.01" lengthAdjust="spacingAndGlyphs">500</text>
<text x="236.90" y="580.50" class="t" transform="rotate(0.05 236.90 580.50)" textLength="9.01" lengthAdjust="spacingAndGlyphs">400</text>
<text x="236.90" y="584.99" class="t" transform="rotate(0.05 236.90 584.99)" textLength="9.01" lengthAdjust="spacingAndGlyphs">300</text>
<text x="236.90" y="589.49" class="t" transform="rotate(0.05 236.90 589.49)" textLength="9.01" lengthAdjust="spacingAndGlyphs">200</text>
<text x="236.90" y="593.98" class="t" transform="rotate(0.05 236.90 593.98)" textLength="9.01" lengthAdjust="spacingAndGlyphs">100</text>
<text x="236.90" y="598.48" class="t" transform="rotate(0.05 236.90 598.48)" textLength="3.00" lengthAdjust="spacingAndGlyphs">0</text>
<rect x="455.30" y="573.08" width="170.90" height="24.50" fill="rgb(208,208,208)"/>
<rect x="455.30" y="573.08" width="170.90" height="24.50" fill="none" stroke="#000000" stroke-width="0.70" stroke-opacity="0.80"/>
<text x="448.90" y="576.00" class="t" transform="rotate(0.05 448.90 576.00)" textLength="9.01" lengthAdjust="spacingAndGlyphs">500</text>
<text x="448.90" y="580.50" class="t" transform="rotate(0.05 448.90 580.50)" textLength="9.01" lengthAdjust="spacingAndGlyphs">400</text>
<text x="448.90" y="584.99" class="t" transform="rotate(0.05 448.90 584.99)" textLength="9.01" lengthAdjust="spacingAndGlyphs">300</text>
<text x="448.90" y="589.49" class="t" transform="rotate(0.05 448.90 589.49)" textLength="9.01" lengthAdjust="spacingAndGlyphs">200</text>
<text x="448.90" y="593.98" class="t" transform="rotate(0.05 448.90 593.98)" textLength="9.01" lengthAdjust="spacingAndGlyphs">100</text>
<text x="448.90" y="598.48" class="t" transform="rotate(0.05 448.90 598.48)" textLength="3.00" lengthAdjust="spacingAndGlyphs">0</text>
<rect x="243.30" y="601.71" width="173.00" height="15.00" fill="rgb(254,205,155)"/>
<rect x="243.30" y="601.71" width="173.00" height="15.00" fill="none" stroke="#000000" stroke-width="0.70" stroke-opacity="0.80"/>
<text x="236.90" y="604.20" class="t" transform="rotate(0.05 236.90 604.20)" textLength="9.01" lengthAdjust="spacingAndGlyphs">500</text>
<text x="236.90" y="606.95" class="t" transform="rotate(0.05 236.90 606.95)" textLength="9.01" lengthAdjust="spacingAndGlyphs">400</text>
<text x="236.90" y="609.71" class="t" transform="rotate(0.05 236.90 609.71)" textLength="9.01" lengthAdjust="spacingAndGlyphs">300</text>
<text x="236.90" y="612.46" class="t" transform="rotate(0.05 236.90 612.46)" textLength="9.01" lengthAdjust="spacingAndGlyphs">200</text>
<text x="236.90" y="615.21" class="t" transform="rotate(0.05 236.90 615.21)" textLength="9.01" lengthAdjust="spacingAndGlyphs">100</text>
<text x="236.90" y="617.96" class="t" transform="rotate(0.05 236.90 617.96)" textLength="3.00" lengthAdjust="spacingAndGlyphs">0</text>
<rect x="455.30" y="601.71" width="170.90" height="15.00" fill="rgb(208,208,208)"/>
<rect x="499.42" y="601.71" width="3.70" height="16.00" fill="#ff0000"/>
<rect x="455.30" y="601.71" width="170.90" height="15.00" fill="none" stroke="#000000" stroke-width="0.70" stroke-opacity="0.80"/>
<line x1="462.70" y1="616.61" x2="618.80" y2="616.61" stroke="#e01030" stroke-width="0.80" stroke-opacity="0.69"/>
<text x="448.90" y="603.78" class="t" transform="rotate(0.05 448.90 603.78)" textLength="10.51" lengthAdjust="spacingAndGlyphs">1.00</text>
<text x="448.90" y="607.18" class="t" transform="rotate(0.05 448.90 607.18)" textLength="10.51" lengthAdjust="spacingAndGlyphs">0.75</text>
<text x="448.90" y="610.59" class="t" transform="rotate(0.05 448.90 610.59)" textLength="10.51" lengthAdjust="spacingAndGlyphs">0.50</text>
<text x="448.90" y="614.00" class="t" transform="rotate(0.05 448.90 614.00)" textLength="10.51" lengthAdjust="spacingAndGlyphs">0.25</text>
<text x="448.90" y="617.41" class="t" transform="rotate(0.05 448.90 617.41)" textLength="10.51" lengthAdjust="spacingAndGlyphs">0.00</text>
<text x="250.90" y="627.80" class="x" transform="rotate(0.05 250.90 627.80)" textLength="3.95" lengthAdjust="spacingAndGlyphs">0</text>
<text x="290.45" y="627.80" class="x" transform="rotate(0.05 290.45 627.80)" textLength="11.45" lengthAdjust="spacingAndGlyphs">5kb</text>
<text x="330.00" y="627.80" class="x" transform="rotate(0.05 330.00 627.80)" textLength="15.40" lengthAdjust="spacingAndGlyphs">10kb</text>
<text x="369.55" y="627.80" class="x" transform="rotate(0.05 369.55 627.80)" textLength="15.40" lengthAdjust="spacingAndGlyphs">15kb</text>
<text x="409.10" y="627.80" class="x" transform="rotate(0.05 409.10 627.80)" textLength="15.40" lengthAdjust="spacingAndGlyphs">20kb</text>
<text x="463.00" y="627.80" class="x" transform="rotate(0.05 463.00 627.80)" textLength="3.95" lengthAdjust="spacingAndGlyphs">0</text>
<text x="501.95" y="627.80" class="x" transform="rotate(0.05 501.95 627.80)" textLength="11.45" lengthAdjust="spacingAndGlyphs">5kb</text>
<text x="540.90" y="627.80" class="x" transform="rotate(0.05 540.90 627.80)" textLength="15.40" lengthAdjust="spacingAndGlyphs">10kb</text>
<text x="579.85" y="627.80" class="x" transform="rotate(0.05 579.85 627.80)" textLength="15.40" lengthAdjust="spacingAndGlyphs">15kb</text>
<text x="618.80" y="627.80" class="x" transform="rotate(0.05 618.80 627.80)" textLength="15.40" lengthAdjust="spacingAndGlyphs">20kb</text>
<text x="169.07" y="20.00" class="l" fill="#0000ff" textLength="34.12" lengthAdjust="spacing">AAV2</text>
<text x="175.57" y="33.87" class="l" fill="#0000ff" textLength="26.99" lengthAdjust="spacing">EBV</text>
<text x="174.57" y="47.74" class="l" fill="#0000ff" textLength="27.99" lengthAdjust="spacing">HBV</text>
<text x="179.57" y="61.61" class="l" fill="#0000ff" textLength="22.99" lengthAdjust="spacing">HIV</text>
<text x="174.57" y="75.48" class="l" fill="#0000ff" textLength="27.99" lengthAdjust="spacing">HPV</text>
<text x="156.57" y="89.35" class="l" fill="#0000ff" textLength="46.61" lengthAdjust="spacing">HTLV-1</text>
<text x="130.97" y="103.22" class="l" fill="#006400" textLength="72.03" lengthAdjust="spacing">Alu repeats</text>
<text x="88.97" y="117.09" class="l" fill="#006400" textLength="114.03" lengthAdjust="spacing">A-Phased repeats</text>
<text x="97.17" y="130.96" class="l" fill="#006400" textLength="105.83" lengthAdjust="spacing">Directed repeats</text>
<text x="92.17" y="144.83" class="l" fill="#006400" textLength="110.83" lengthAdjust="spacing">DNA transposons</text>
<text x="9.81" y="158.70" class="l" fill="#006400" textLength="193.19" lengthAdjust="spacing">G-Quadruplex forming repeats</text>
<text x="98.03" y="172.57" class="l" fill="#006400" textLength="104.97" lengthAdjust="spacing">Inverted repeats</text>
<text x="134.47" y="186.44" class="l" fill="#006400" textLength="68.53" lengthAdjust="spacing">L1 repeats</text>
<text x="134.47" y="200.31" class="l" fill="#006400" textLength="68.53" lengthAdjust="spacing">L2 repeats</text>
<text x="0.67" y="214.18" class="l" fill="#006400" textLength="202.33" lengthAdjust="spacing">Low_complexity A/T rich regions</text>
<text x="113.17" y="228.05" class="l" fill="#006400" textLength="89.83" lengthAdjust="spacing">Microsatellites</text>
<text x="125.57" y="241.92" class="l" fill="#006400" textLength="77.43" lengthAdjust="spacing">MIR repeats</text>
<text x="113.17" y="255.79" class="l" fill="#006400" textLength="89.83" lengthAdjust="spacing">Mirror repeats</text>
<text x="120.56" y="269.66" class="l" fill="#006400" textLength="82.44" lengthAdjust="spacing">Z-DNA motifs</text>
<text x="173.60" y="283.53" class="l" fill="#ffa500" textLength="28.96" lengthAdjust="spacing">CNV</text>
<text x="175.57" y="297.40" class="l" fill="#ffa500" textLength="27.39" lengthAdjust="spacing">DEL</text>
<text x="173.17" y="311.27" class="l" fill="#ffa500" textLength="30.06" lengthAdjust="spacing">DUP</text>
<text x="179.03" y="325.13" class="l" fill="#ffa500" textLength="24.11" lengthAdjust="spacing">INS</text>
<text x="179.03" y="339.00" class="l" fill="#ffa500" textLength="23.53" lengthAdjust="spacing">INV</text>
<text x="157.95" y="352.87" class="l" fill="#a020f0" textLength="44.58" lengthAdjust="spacing">1_TssA</text>
<text x="131.61" y="366.74" class="l" fill="#a020f0" textLength="70.87" lengthAdjust="spacing">2_TssAFlnk</text>
<text x="145.47" y="380.61" class="l" fill="#a020f0" textLength="57.01" lengthAdjust="spacing">3_TxFlnk</text>
<text x="171.98" y="394.48" class="l" fill="#a020f0" textLength="30.66" lengthAdjust="spacing">4_Tx</text>
<text x="151.75" y="408.35" class="l" fill="#a020f0" textLength="50.73" lengthAdjust="spacing">5_TxWk</text>
<text x="150.60" y="422.22" class="l" fill="#a020f0" textLength="52.93" lengthAdjust="spacing">6_EnhG</text>
<text x="161.59" y="436.09" class="l" fill="#a020f0" textLength="41.80" lengthAdjust="spacing">7_Enh</text>
<text x="123.70" y="449.96" class="l" fill="#a020f0" textLength="79.30" lengthAdjust="spacing">8_ZNF_Rpts</text>
<text x="164.65" y="463.83" class="l" fill="#a020f0" textLength="37.95" lengthAdjust="spacing">9_Het</text>
<text x="139.65" y="477.70" class="l" fill="#a020f0" textLength="62.90" lengthAdjust="spacing">10_TssBiv</text>
<text x="134.65" y="491.57" class="l" fill="#a020f0" textLength="67.83" lengthAdjust="spacing">11_BivFlnk</text>
<text x="134.65" y="505.44" class="l" fill="#a020f0" textLength="67.90" lengthAdjust="spacing">12_EnhBiv</text>
<text x="128.25" y="519.31" class="l" fill="#a020f0" textLength="74.78" lengthAdjust="spacing">13_ReprPC</text>
<text x="108.25" y="533.18" class="l" fill="#a020f0" textLength="94.23" lengthAdjust="spacing">14_ReprPCWk</text>
<text x="141.25" y="547.05" class="l" fill="#a020f0" textLength="61.75" lengthAdjust="spacing">15_Quies</text>
<text x="135.60" y="560.92" class="l" fill="#000000" textLength="67.79" lengthAdjust="spacing">CPGisland</text>
<text x="130.17" y="574.79" class="l" fill="#000000" textLength="73.23" lengthAdjust="spacing">Methylation</text>
<text x="137.17" y="588.66" class="l" fill="#000000" textLength="65.83" lengthAdjust="spacing">Promoters</text>
<text x="92.17" y="602.53" class="l" fill="#000000" textLength="111.22" lengthAdjust="spacing">ReplicationTiming</text>
<text x="109.39" y="616.40" class="l" fill="#000000" textLength="93.14" lengthAdjust="spacing">TAD_boundary</text>
</svg>
</body></html>
